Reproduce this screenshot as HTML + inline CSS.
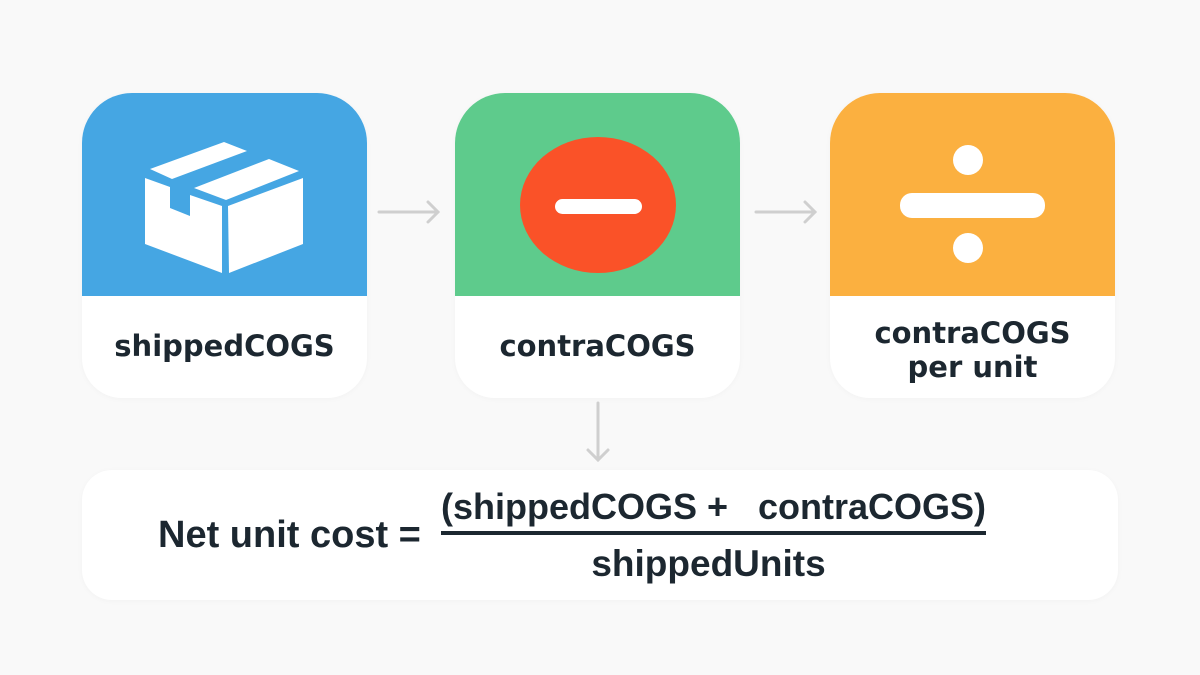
<!DOCTYPE html>
<html><head><style>
body{margin:0;width:1200px;height:675px;background:#f9f9f9;font-family:"Liberation Sans",sans-serif;position:relative;overflow:hidden}
.card{position:absolute;top:93px;width:285px;height:305px;background:#fff;border-radius:50px 50px 40px 40px;box-shadow:0 1px 6px rgba(0,0,0,0.03);overflow:hidden}
.top{height:203px;position:relative}
.lbl{position:absolute;top:203px;left:0;right:0;height:100px;display:flex;align-items:center;justify-content:center;text-align:center;font-family:"DejaVu Sans",sans-serif;font-weight:bold;font-size:29px;color:#1c2730;line-height:34px}
.box{position:absolute;left:82px;top:470px;width:1036px;height:130px;background:#fff;border-radius:30px;box-shadow:0 1px 6px rgba(0,0,0,0.03)}
.t{position:absolute;font-weight:bold;color:#1c2730;white-space:nowrap;line-height:1}
</style></head><body>
<div class="card" style="left:82px"><div class="top" style="background:#45a6e3">
<svg width="285" height="203" viewBox="82 93 285 203" style="position:absolute;left:0;top:0">
<g fill="#fff">
<polygon points="145,178 170,187 170,208 190,216 190,195 222,206 222,273 145,244"/>
<polygon points="150,169 224,142 247,151 172,179"/>
<polygon points="194,188 269,159 299,171 226,200"/>
<polygon points="228,206 303,178 303,244 229,273"/>
</g></svg></div>
<div class="lbl">shippedCOGS</div></div>
<div class="card" style="left:455px"><div class="top" style="background:#5ecb8c">
<svg width="285" height="203" style="position:absolute;left:0;top:0">
<ellipse cx="143" cy="112" rx="78" ry="68" fill="#fa5228"/>
<rect x="100" y="106" width="87" height="15" rx="7.5" fill="#fff"/></svg></div>
<div class="lbl">contraCOGS</div></div>
<div class="card" style="left:830px"><div class="top" style="background:#fbb040">
<svg width="285" height="203" style="position:absolute;left:0;top:0">
<rect x="70" y="100" width="145" height="25" rx="12" fill="#fff"/>
<circle cx="138" cy="67" r="15" fill="#fff"/><circle cx="138" cy="155" r="15" fill="#fff"/></svg></div>
<div class="lbl" style="padding-top:4px">contraCOGS<br>per unit</div></div>
<svg width="1200" height="675" style="position:absolute;left:0;top:0" fill="none" stroke="#cfcfcf" stroke-width="3" stroke-linecap="round">
<path d="M379 212H438M428 202L438 212L428 222"/>
<path d="M756 212H815M805 202L815 212L805 222"/>
<path d="M598 403V460M588 450L598 460L608 450"/>
</svg>
<div class="box"></div>
<div class="t" style="left:158px;top:516px;font-size:38px">Net unit cost =</div>
<div class="t" style="left:431px;top:489px;width:565px;text-align:center;font-size:36px">(shippedCOGS +&nbsp;&nbsp; contraCOGS)</div>
<div style="position:absolute;left:441px;top:531px;width:545px;height:4px;background:#1c2730"></div>
<div class="t" style="left:441px;top:545px;width:535px;text-align:center;font-size:37px">shippedUnits</div>
</body></html>
